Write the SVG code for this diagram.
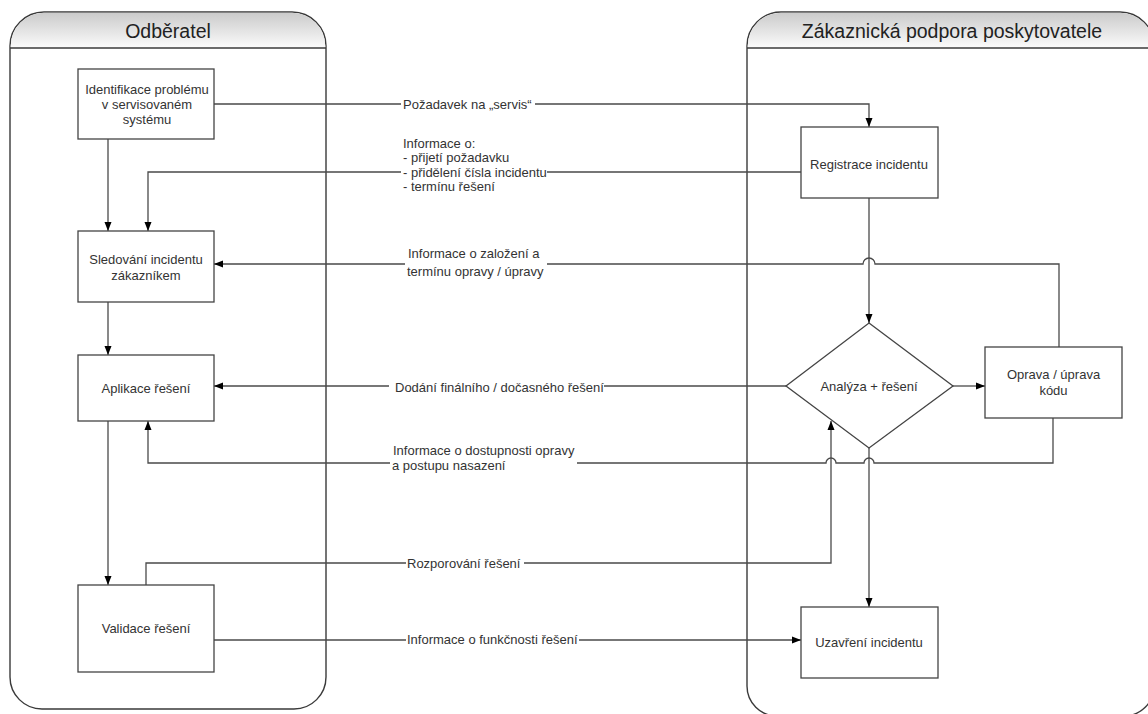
<svg xmlns="http://www.w3.org/2000/svg" width="1148" height="714" viewBox="0 0 1148 714">
<defs>
<linearGradient id="hdr" x1="0" y1="0" x2="0" y2="1">
<stop offset="0" stop-color="#cbcbcb"/>
<stop offset="1" stop-color="#fbfbfb"/>
</linearGradient>
<marker id="arr" markerUnits="userSpaceOnUse" markerWidth="9" markerHeight="9" viewBox="0 0 9 9" refX="9" refY="4.5" orient="auto">
<path d="M0,1 L9,4.5 L0,8 Z" fill="#000"/>
</marker>
<style>
.lane{fill:#fff;stroke:#3a3a3a;stroke-width:1.4}
.hdrline{stroke:#3a3a3a;stroke-width:1.4}
.hdrtxt{font-family:"Liberation Sans",Arial,sans-serif;font-size:19.5px;fill:#222;text-anchor:middle}
.box{fill:#fff;stroke:#444;stroke-width:1.3}
.ntxt{font-family:"Liberation Sans",Arial,sans-serif;font-size:13px;fill:#333;text-anchor:middle}
.ltxt{font-family:"Liberation Sans",Arial,sans-serif;font-size:13px;fill:#333}
.edge{fill:none;stroke:#4a4a4a;stroke-width:1.3}
.arrow{marker-end:url(#arr)}
.lbg{fill:#fff}
</style>
</defs>
<rect width="1148" height="714" fill="#fff"/>
<g id="lane-odberatel">
<path class="lane" d="M10,46 A34,34 0 0 1 44,12 H292 A34,34 0 0 1 326,46 V677 A32,32 0 0 1 294,709 H42 A32,32 0 0 1 10,677 Z"/>
<path d="M10.7,48 V46 A33.3,33.3 0 0 1 44,12.7 H292 A33.3,33.3 0 0 1 325.3,46 V48 Z" fill="url(#hdr)"/>
<line class="hdrline" x1="10" y1="48" x2="326" y2="48"/>
<text class="hdrtxt" x="168" y="38">Odběratel</text>
</g>
<g id="lane-podpora">
<path class="lane" d="M747,46 A34,34 0 0 1 781,12 H1120 A34,34 0 0 1 1154,46 V686 A30,30 0 0 1 1124,716 H777 A30,30 0 0 1 747,686 Z"/>
<path d="M747.7,48 V46 A33.3,33.3 0 0 1 781,12.7 H1120 A33.3,33.3 0 0 1 1153.3,46 V48 Z" fill="url(#hdr)"/>
<line class="hdrline" x1="747" y1="48" x2="1154" y2="48"/>
<text class="hdrtxt" x="952" y="38">Zákaznická podpora poskytovatele</text>
</g>
<g id="connectors">
<path class="edge arrow" d="M214,104 H869 V127"/>
<path class="edge arrow" d="M801,172 H148 V231"/>
<path class="edge arrow" d="M1059,347 V264 H875 A6,6 0 0 0 863,264 H214"/>
<path class="edge arrow" d="M786,386 H214"/>
<path class="edge arrow" d="M1053,418 V463 H874 A5,5 0 0 0 864,463 H836 A5,5 0 0 0 826,463 H148 V421"/>
<path class="edge arrow" d="M146,585 V563 H831 V421"/>
<path class="edge arrow" d="M869,448 V607"/>
<path class="edge arrow" d="M953,386 H985"/>
<path class="edge arrow" d="M869,198 V323"/>
<path class="edge arrow" d="M214,640 H801"/>
<path class="edge arrow" d="M108,139 V231"/>
<path class="edge arrow" d="M108,302 V355"/>
<path class="edge arrow" d="M108,421 V585"/>
<g id="edge-labels">
<rect class="lbg" x="401" y="96" width="134" height="16"/>
<text class="ltxt" x="403" y="108.5">Požadavek na „servis“</text>
<rect class="lbg" x="401" y="135" width="146" height="59"/>
<text class="ltxt" x="403" y="147.5">Informace o:</text>
<text class="ltxt" x="403" y="162">- přijetí požadavku</text>
<text class="ltxt" x="403" y="176.5">- přidělení čísla incidentu</text>
<text class="ltxt" x="403" y="191">- termínu řešení</text>
<rect class="lbg" x="405" y="245" width="142" height="34"/>
<text class="ltxt" x="408" y="257.8">Informace o založení a</text>
<text class="ltxt" x="407" y="276.2">termínu opravy / úpravy</text>
<rect class="lbg" x="389" y="379" width="215" height="16"/>
<text class="ltxt" x="395" y="391.5">Dodání finálního / dočasného řešení</text>
<rect class="lbg" x="390" y="442" width="187" height="31"/>
<text class="ltxt" x="393" y="454.5">Informace o dostupnosti opravy</text>
<text class="ltxt" x="392" y="469.5">a postupu nasazení</text>
<rect class="lbg" x="406" y="555" width="118" height="16"/>
<text class="ltxt" x="407" y="567.5">Rozporování řešení</text>
<rect class="lbg" x="406" y="631" width="173" height="16"/>
<text class="ltxt" x="407" y="643.5">Informace o funkčnosti řešení</text>
</g>
</g>
<g id="n-identifikace">
<rect class="box" x="78" y="69" width="136" height="70"/>
<text class="ntxt" x="147" y="93.5">Identifikace problému</text>
<text class="ntxt" x="147" y="108.5">v servisovaném</text>
<text class="ntxt" x="147" y="123.5">systému</text>
</g>
<g id="n-sledovani">
<rect class="box" x="78" y="231" width="136" height="71"/>
<text class="ntxt" x="146" y="263.5">Sledování incidentu</text>
<text class="ntxt" x="146" y="279.5">zákazníkem</text>
</g>
<g id="n-aplikace">
<rect class="box" x="78" y="355" width="136" height="66"/>
<text class="ntxt" x="146" y="392.5">Aplikace řešení</text>
</g>
<g id="n-validace">
<rect class="box" x="78" y="585" width="136" height="87"/>
<text class="ntxt" x="146" y="632.5">Validace řešení</text>
</g>
<g id="n-registrace">
<rect class="box" x="801" y="127" width="137" height="71"/>
<text class="ntxt" x="869" y="168.5">Registrace incidentu</text>
</g>
<g id="n-analyza">
<polygon class="box" points="869,323 953,386 869,448 786,386"/>
<text class="ntxt" x="869" y="390.5">Analýza + řešení</text>
</g>
<g id="n-oprava">
<rect class="box" x="985" y="347" width="137" height="71"/>
<text class="ntxt" x="1053.5" y="378.5">Oprava / úprava</text>
<text class="ntxt" x="1053.5" y="394.5">kódu</text>
</g>
<g id="n-uzavreni">
<rect class="box" x="801" y="607" width="137" height="71"/>
<text class="ntxt" x="869" y="646.5">Uzavření incidentu</text>
</g>
</svg>
